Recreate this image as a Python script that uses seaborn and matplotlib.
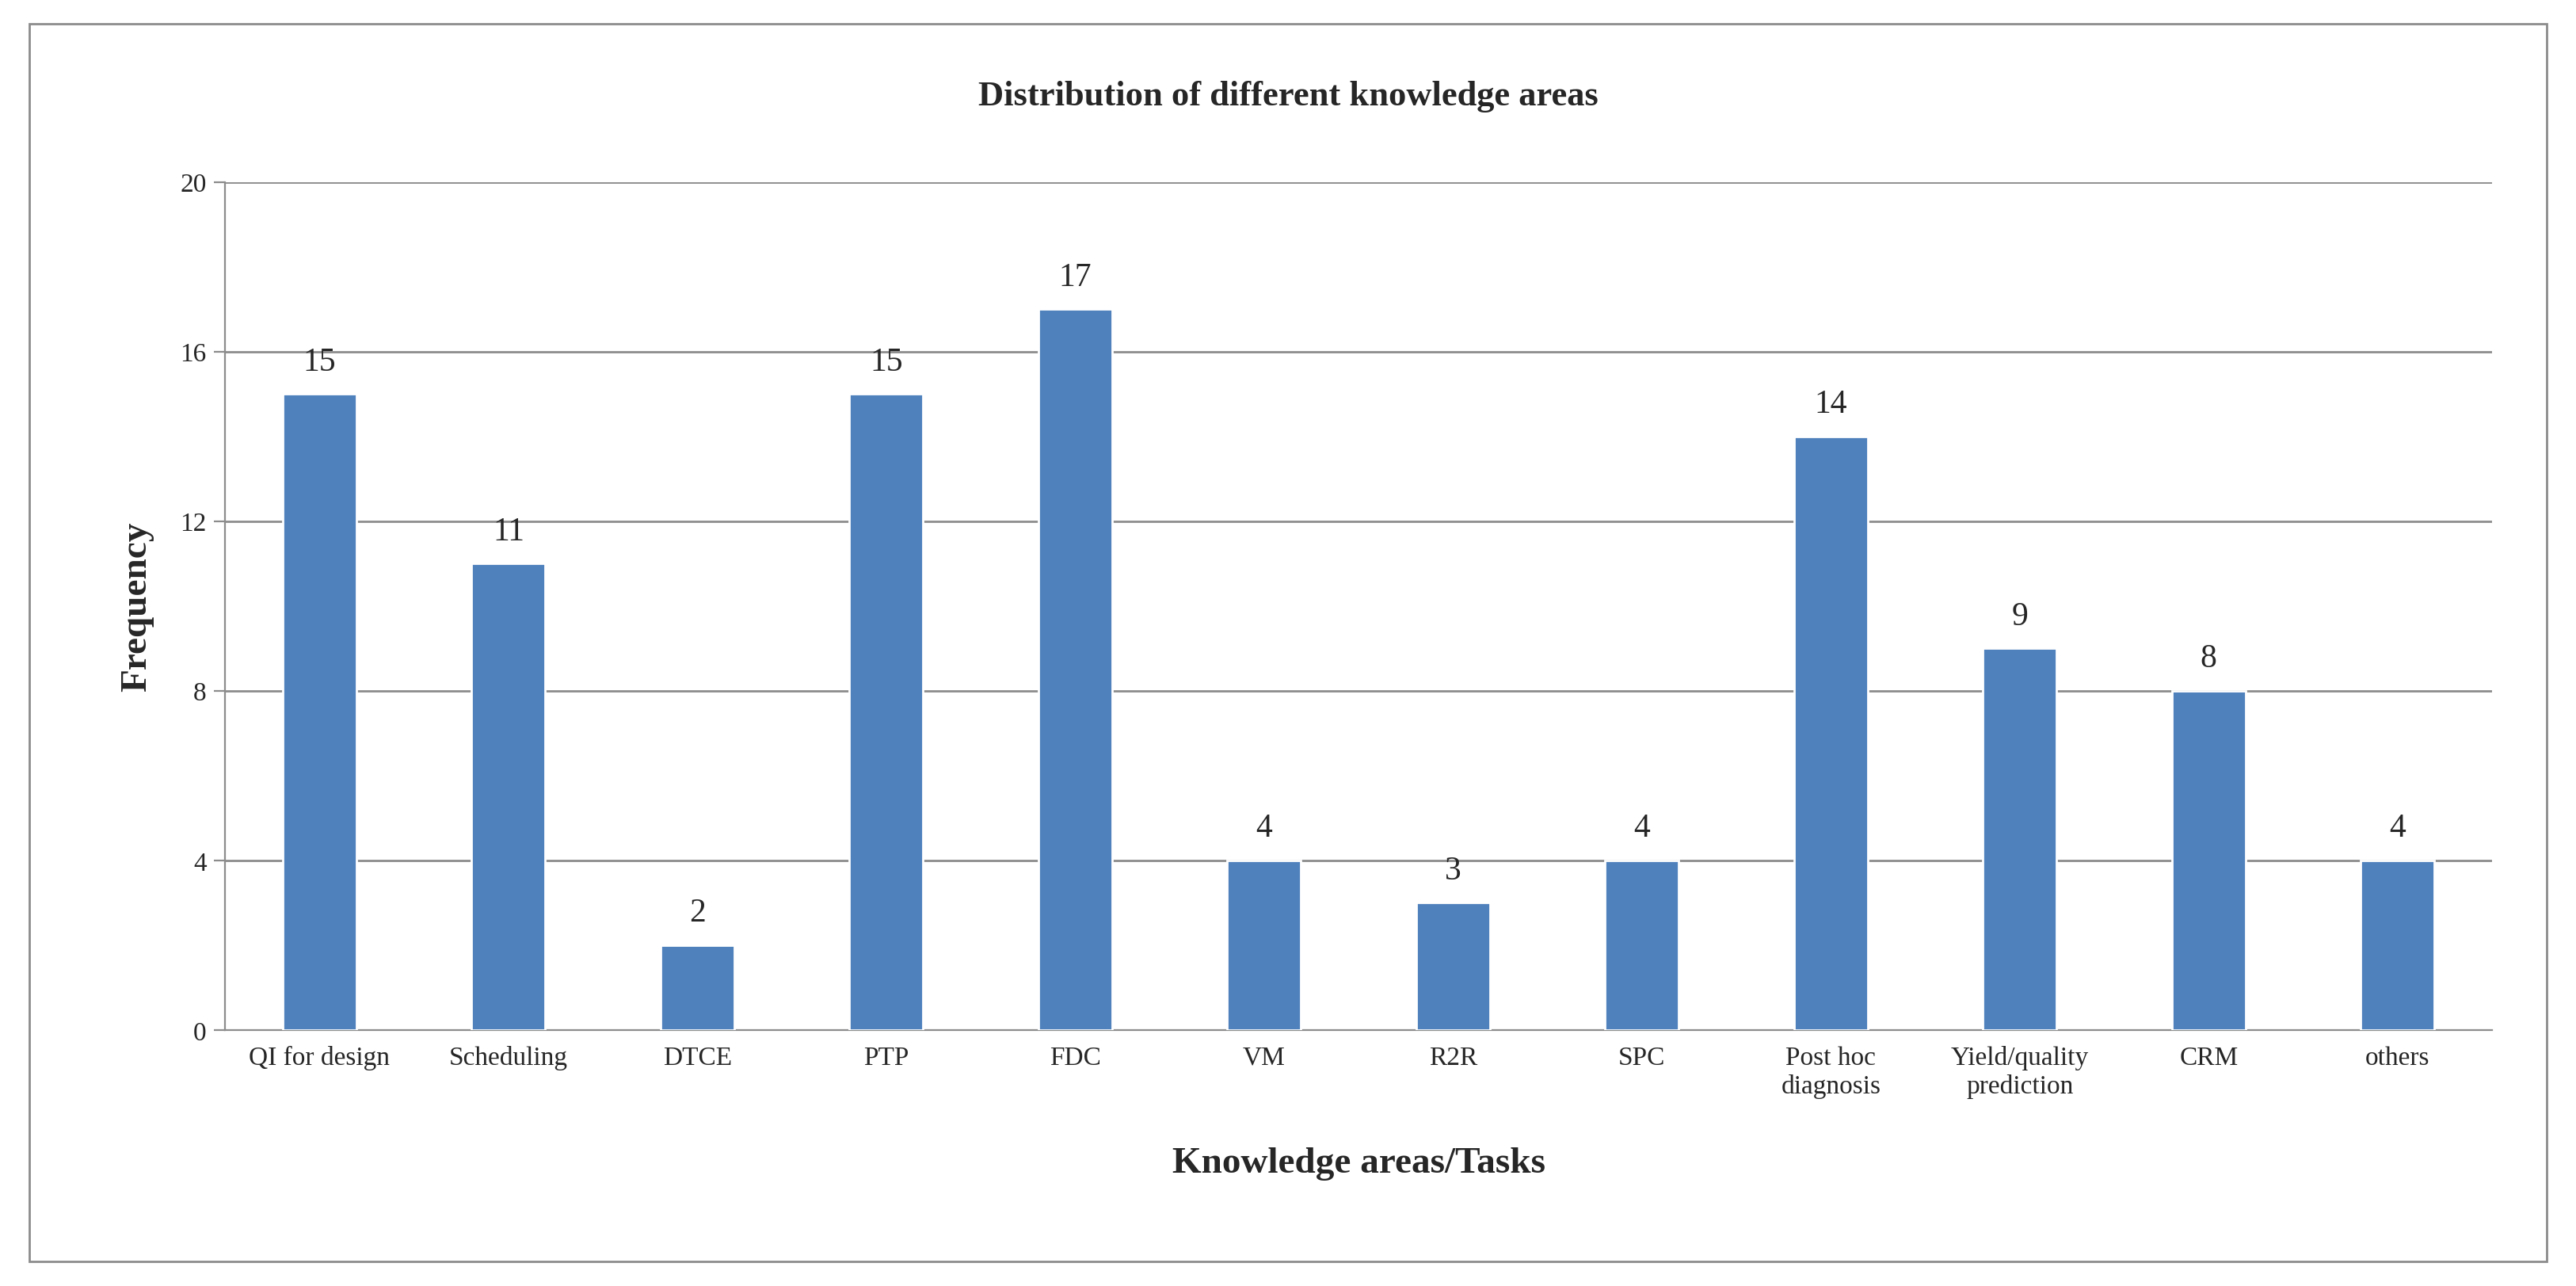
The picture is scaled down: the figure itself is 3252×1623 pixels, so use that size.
import matplotlib
matplotlib.use("Agg")
import matplotlib.pyplot as plt
import seaborn as sns
import pandas as pd
from matplotlib.patches import Rectangle

# === DATOS ===
areas = ["QI for design", "Scheduling", "DTCE", "PTP", "FDC", "VM", "R2R", "SPC",
         "Post hoc\ndiagnosis", "Yield/quality\nprediction", "CRM", "others"]
frequency = [15, 11, 2, 15, 17, 4, 3, 4, 14, 9, 8, 4]
yticks = [0, 4, 8, 12, 16, 20]

df = pd.DataFrame({"area": areas, "freq": frequency})

sns.set_style("white")
plt.rcParams["font.family"] = ["Liberation Serif", "DejaVu Serif"]

fig = plt.figure(figsize=(16.26, 8.12), dpi=200)
ax = fig.add_axes([0.0874, 0.199, 0.880, 0.659])

sns.barplot(data=df, x="area", y="freq", color="#4F81BD", saturation=1, width=0.39, ax=ax, zorder=3)

for i, v in enumerate(frequency):
    ax.text(i, v + 0.4, str(v), ha="center", va="bottom", fontsize=15)

ax.set_ylim(0, 20)
ax.set_yticks(yticks)
ax.yaxis.grid(True, color="#8c8c8c", linewidth=1.0, zorder=0)
ax.set_axisbelow(True)
for s in ["top", "right"]:
    ax.spines[s].set_visible(False)
for s in ["left", "bottom"]:
    ax.spines[s].set_color("#8c8c8c")
ax.tick_params(axis="y", left=True, length=5, color="#8c8c8c", labelsize=12)
ax.tick_params(axis="x", bottom=False, labelsize=12)

ax.set_xlabel("Knowledge areas/Tasks", fontsize=17, fontweight="bold", labelpad=22)
ax.set_ylabel("Frequency", fontsize=17, fontweight="bold", labelpad=12)
fig.text(0.5, 0.925, "Distribution of different knowledge areas", ha="center", va="center",
         fontsize=16, fontweight="bold")

fig.patches.append(Rectangle((0.0115, 0.019), 0.977, 0.962, transform=fig.transFigure,
                             fill=False, edgecolor="#8c8c8c", linewidth=1.0))

fig.savefig("out.png", dpi=200)
